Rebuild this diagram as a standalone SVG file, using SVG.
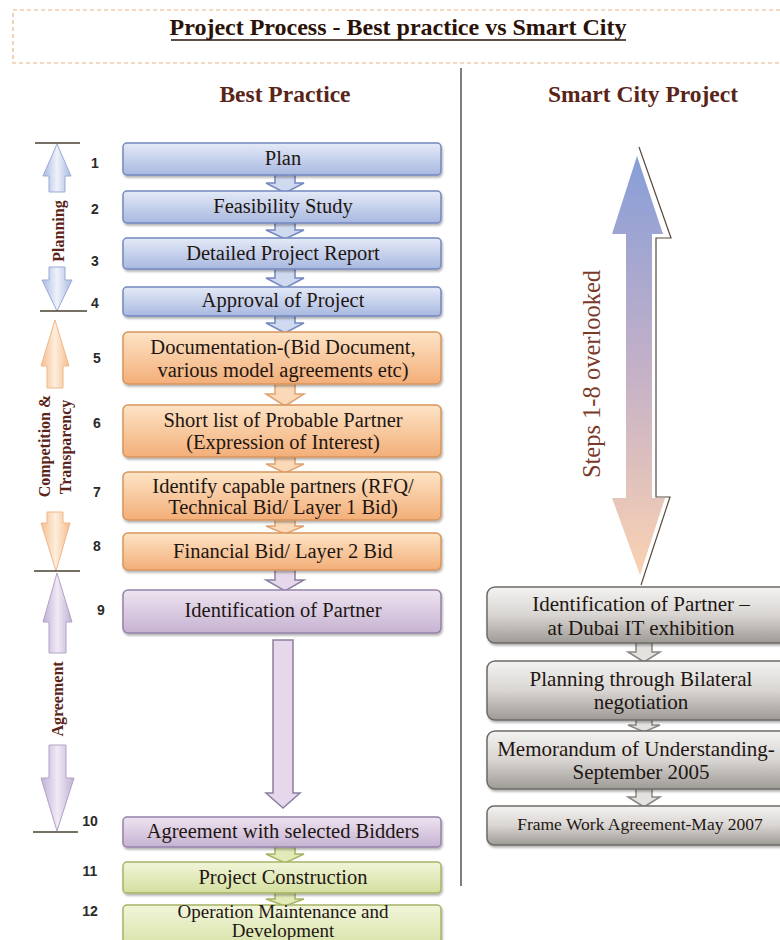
<svg xmlns="http://www.w3.org/2000/svg" width="780" height="940" viewBox="0 0 780 940">
<defs>
  <linearGradient id="gBlue" x1="0" y1="0" x2="0" y2="1"><stop offset="0" stop-color="#e4eaf7"/><stop offset="1" stop-color="#a8b8e0"/></linearGradient>
  <linearGradient id="gOrange" x1="0" y1="0" x2="0" y2="1"><stop offset="0" stop-color="#fde4c6"/><stop offset="1" stop-color="#f3ae78"/></linearGradient>
  <linearGradient id="gPurple" x1="0" y1="0" x2="0" y2="1"><stop offset="0" stop-color="#eee4f0"/><stop offset="1" stop-color="#c6b2d2"/></linearGradient>
  <linearGradient id="gGreen" x1="0" y1="0" x2="0" y2="1"><stop offset="0" stop-color="#f1f5da"/><stop offset="1" stop-color="#d3df9e"/></linearGradient>
  <linearGradient id="gGray" x1="0" y1="0" x2="0" y2="1"><stop offset="0" stop-color="#f4f3f1"/><stop offset="0.5" stop-color="#d8d5d2"/><stop offset="1" stop-color="#9e9a96"/></linearGradient>
  <linearGradient id="gBig" x1="0" y1="0" x2="0" y2="1"><stop offset="0" stop-color="#879ed8"/><stop offset="0.5" stop-color="#c3b0c8"/><stop offset="1" stop-color="#fad2b2"/></linearGradient>
  <linearGradient id="hBlue" x1="0" y1="0" x2="1" y2="0"><stop offset="0" stop-color="#a9b9e0"/><stop offset="0.5" stop-color="#eef2fa"/><stop offset="1" stop-color="#a9b9e0"/></linearGradient>
  <linearGradient id="hOrange" x1="0" y1="0" x2="1" y2="0"><stop offset="0" stop-color="#f5bd8e"/><stop offset="0.5" stop-color="#fdeedd"/><stop offset="1" stop-color="#f5bd8e"/></linearGradient>
  <linearGradient id="hPurple" x1="0" y1="0" x2="1" y2="0"><stop offset="0" stop-color="#c0b0d4"/><stop offset="0.5" stop-color="#f0eaf5"/><stop offset="1" stop-color="#c0b0d4"/></linearGradient>
  <filter id="sh" x="-5%" y="-20%" width="110%" height="150%"><feDropShadow dx="1" dy="2" stdDeviation="1.2" flood-color="#000" flood-opacity="0.3"/></filter>
</defs>
<style>
  .bt{font-family:"Liberation Serif",serif;font-size:20.5px;fill:#1e1612;text-anchor:middle}
  .rt{font-family:"Liberation Serif",serif;font-size:21px;fill:#1e1612;text-anchor:middle}
  .num{font-family:"Liberation Sans",Arial,sans-serif;font-size:14px;font-weight:bold;fill:#2a2a2a;text-anchor:middle}
  .hd{font-family:"Liberation Serif",serif;font-size:23.5px;font-weight:bold;fill:#5a2418;text-anchor:middle}
  .side{font-family:"Liberation Serif",serif;font-size:16px;font-weight:bold;fill:#5a2418;text-anchor:middle}
  .blue{fill:url(#gBlue);stroke:#7488c0;stroke-width:1.5}
  .orange{fill:url(#gOrange);stroke:#d8955c;stroke-width:1.5}
  .purple{fill:url(#gPurple);stroke:#9582a8;stroke-width:1.5}
  .green{fill:url(#gGreen);stroke:#a6b466;stroke-width:1.5}
  .gray{fill:url(#gGray);stroke:#6e6a66;stroke-width:1.5}
  .cb{fill:#cfd9f0;stroke:#7488c0;stroke-width:1.5}
  .co{fill:#fbd9b8;stroke:#e0a472;stroke-width:1.5}
  .cp{fill:#e6d8ea;stroke:#8a7fa0;stroke-width:1.5}
  .cg{fill:#e2eab8;stroke:#a6b466;stroke-width:1.5}
  .cgr{fill:#e4e2df;stroke:#8a8682;stroke-width:1.5}
  .tick{stroke:#4a4232;stroke-width:1.6}
</style>

<!-- title -->
<g id="title">
  <rect x="13" y="10" width="780" height="53" fill="none" stroke="#e7b484" stroke-width="1.2" stroke-dasharray="4 3"/>
  <text x="398" y="35" class="hd" style="fill:#2a1208;font-size:24px">Project Process - Best practice vs Smart City</text>
  <line x1="171" y1="40" x2="626" y2="40" stroke="#2a1208" stroke-width="1.6"/>
</g>
<line x1="461" y1="68" x2="461" y2="886" stroke="#555" stroke-width="1.5"/>
<text x="285" y="102" class="hd">Best Practice</text>
<text x="643" y="102" class="hd">Smart City Project</text>

<!-- connectors -->
<g id="connectors">
  <path class="cb" d="M275,173 L295,173 L295,183 L304,183 L285,193 L266,183 L275,183 Z"/>
  <path class="cb" d="M275,221 L295,221 L295,230 L304,230 L285,239 L266,230 L275,230 Z"/>
  <path class="cb" d="M275,267 L295,267 L295,278 L304,278 L285,288 L266,278 L275,278 Z"/>
  <path class="cb" d="M275,314 L295,314 L295,323 L304,323 L285,333 L266,323 L275,323 Z"/>
  <path class="co" d="M275,382 L295,382 L295,394 L304,394 L285,406 L266,394 L275,394 Z"/>
  <path class="co" d="M275,455 L295,455 L295,464 L304,464 L285,473 L266,464 L275,464 Z"/>
  <path class="co" d="M275,518 L295,518 L295,526 L304,526 L285,534 L266,526 L275,526 Z"/>
  <path class="cp" d="M275,568 L295,568 L295,580 L304,580 L285,591 L266,580 L275,580 Z"/>
  <path class="cp" d="M273,640 L293,640 L293,793 L300,793 L283,808 L266,793 L273,793 Z"/>
  <path class="cg" d="M275,845 L295,845 L295,854 L304,854 L285,863 L266,854 L275,854 Z"/>
  <path class="cg" d="M275,891 L295,891 L295,899 L304,899 L285,906 L266,899 L275,899 Z"/>
  <path class="cgr" d="M636,641 L652,641 L652,652 L660,652 L644,662 L628,652 L636,652 Z"/>
  <path class="cgr" d="M636,718 L652,718 L652,725 L660,725 L644,732 L628,725 L636,725 Z"/>
  <path class="cgr" d="M636,787 L652,787 L652,797 L660,797 L644,807 L628,797 L636,797 Z"/>
</g>

<!-- left boxes -->
<g id="n1"><rect class="blue" x="123" y="143" width="318" height="32" rx="4" filter="url(#sh)"/><text class="bt" x="283" y="165">Plan</text><text class="num" x="95" y="168">1</text></g>
<g id="n2"><rect class="blue" x="123" y="191" width="318" height="32" rx="4" filter="url(#sh)"/><text class="bt" x="283" y="213">Feasibility Study</text><text class="num" x="95" y="214">2</text></g>
<g id="n3"><rect class="blue" x="123" y="238" width="318" height="31" rx="4" filter="url(#sh)"/><text class="bt" x="283" y="260">Detailed Project Report</text><text class="num" x="95" y="266">3</text></g>
<g id="n4"><rect class="blue" x="123" y="287" width="318" height="29" rx="4" filter="url(#sh)"/><text class="bt" x="283" y="307">Approval of Project</text><text class="num" x="95" y="308">4</text></g>
<g id="n5"><rect class="orange" x="123" y="332" width="318" height="52" rx="5" filter="url(#sh)"/><text class="bt" x="283" y="354">Documentation-(Bid Document,</text><text class="bt" x="283" y="377">various model agreements etc)</text><text class="num" x="97" y="363">5</text></g>
<g id="n6"><rect class="orange" x="123" y="405" width="318" height="52" rx="5" filter="url(#sh)"/><text class="bt" x="283" y="427">Short list of Probable Partner</text><text class="bt" x="283" y="449">(Expression of Interest)</text><text class="num" x="97" y="428">6</text></g>
<g id="n7"><rect class="orange" x="123" y="472" width="318" height="48" rx="5" filter="url(#sh)"/><text class="bt" x="283" y="493">Identify capable partners (RFQ/</text><text class="bt" x="283" y="514">Technical Bid/ Layer 1 Bid)</text><text class="num" x="97" y="497">7</text></g>
<g id="n8"><rect class="orange" x="123" y="533" width="318" height="37" rx="5" filter="url(#sh)"/><text class="bt" x="283" y="558">Financial Bid/ Layer 2 Bid</text><text class="num" x="97" y="551">8</text></g>
<g id="n9"><rect class="purple" x="123" y="590" width="318" height="43" rx="5" filter="url(#sh)"/><text class="bt" x="283" y="617">Identification of Partner</text><text class="num" x="101" y="615">9</text></g>
<g id="n10"><rect class="purple" x="123" y="817" width="318" height="30" rx="4" filter="url(#sh)"/><text class="bt" x="283" y="838">Agreement with selected Bidders</text><text class="num" x="90" y="826">10</text></g>
<g id="n11"><rect class="green" x="123" y="862" width="318" height="31" rx="4" filter="url(#sh)"/><text class="bt" x="283" y="884">Project Construction</text><text class="num" x="90" y="876">11</text></g>
<g id="n12"><rect class="green" x="123" y="905" width="318" height="50" rx="4" filter="url(#sh)"/><text class="bt" x="283" y="918" style="font-size:19px">Operation Maintenance and</text><text class="bt" x="283" y="937" style="font-size:19px">Development</text><text class="num" x="90" y="916">12</text></g>

<!-- phase brackets -->
<g id="planning">
  <line class="tick" x1="35" y1="143" x2="80" y2="143"/>
  <path d="M57,144 L71,176 L65,176 L65,192 L49,192 L49,176 L43,176 Z" fill="url(#hBlue)" stroke="#9aabd6" stroke-width="1"/>
  <path d="M49,267 L65,267 L65,280 L72,280 L57,311 L42,280 L49,280 Z" fill="url(#hBlue)" stroke="#9aabd6" stroke-width="1"/>
  <line class="tick" x1="40" y1="311" x2="87" y2="311"/>
  <text class="side" transform="translate(64,231) rotate(-90)">Planning</text>
</g>
<g id="competition">
  <path d="M55,320 L69,366 L63,366 L63,388 L47,388 L47,366 L41,366 Z" fill="url(#hOrange)" stroke="#f0b888" stroke-width="1"/>
  <path d="M47,512 L63,512 L63,523 L70,523 L56,571 L41,523 L47,523 Z" fill="url(#hOrange)" stroke="#f0b888" stroke-width="1"/>
  <line class="tick" x1="34" y1="571" x2="80" y2="571"/>
  <text class="side" transform="translate(50,446) rotate(-90)">Competition &amp;</text>
  <text class="side" transform="translate(71,447) rotate(-90)">Transparency</text>
</g>
<g id="agreement">
  <path d="M57,573 L72,622 L66,622 L66,653 L49,653 L49,622 L43,622 Z" fill="url(#hPurple)" stroke="#b2a2c8" stroke-width="1"/>
  <path d="M49,745 L66,745 L66,778 L74,778 L57,831 L41,778 L49,778 Z" fill="url(#hPurple)" stroke="#b2a2c8" stroke-width="1"/>
  <line class="tick" x1="33" y1="832" x2="78" y2="832"/>
  <text class="side" transform="translate(63,699) rotate(-90)">Agreement</text>
</g>

<!-- smart city -->
<g id="overlooked">
  <polyline points="639,147 671,238 656,238 656,497 670,497 641,585" fill="none" stroke="#5a4a3e" stroke-width="1.2"/>
  <path d="M637,156 L663,234 L652,234 L652,498 L665,498 L640,575 L612,498 L626,498 L626,234 L612,234 Z" fill="url(#gBig)"/>
  <text transform="translate(600,374) rotate(-90)" style="font-family:'Liberation Serif',serif;font-size:24.5px;fill:#7a3a28;text-anchor:middle">Steps 1-8 overlooked</text>
</g>
<g id="r1"><rect class="gray" x="487" y="587" width="320" height="56" rx="8" filter="url(#sh)"/><text class="rt" x="641" y="611">Identification of Partner –</text><text class="rt" x="641" y="635">at Dubai IT exhibition</text></g>
<g id="r2"><rect class="gray" x="487" y="661" width="320" height="59" rx="8" filter="url(#sh)"/><text class="rt" x="641" y="686">Planning through Bilateral</text><text class="rt" x="641" y="709">negotiation</text></g>
<g id="r3"><rect class="gray" x="487" y="731" width="320" height="58" rx="8" filter="url(#sh)"/><text class="rt" x="636" y="756">Memorandum of Understanding-</text><text class="rt" x="641" y="779">September 2005</text></g>
<g id="r4"><rect class="gray" x="487" y="806" width="320" height="39" rx="7" filter="url(#sh)"/><text class="rt" x="640" y="830" style="font-size:17.5px">Frame Work Agreement-May 2007</text></g>
</svg>
